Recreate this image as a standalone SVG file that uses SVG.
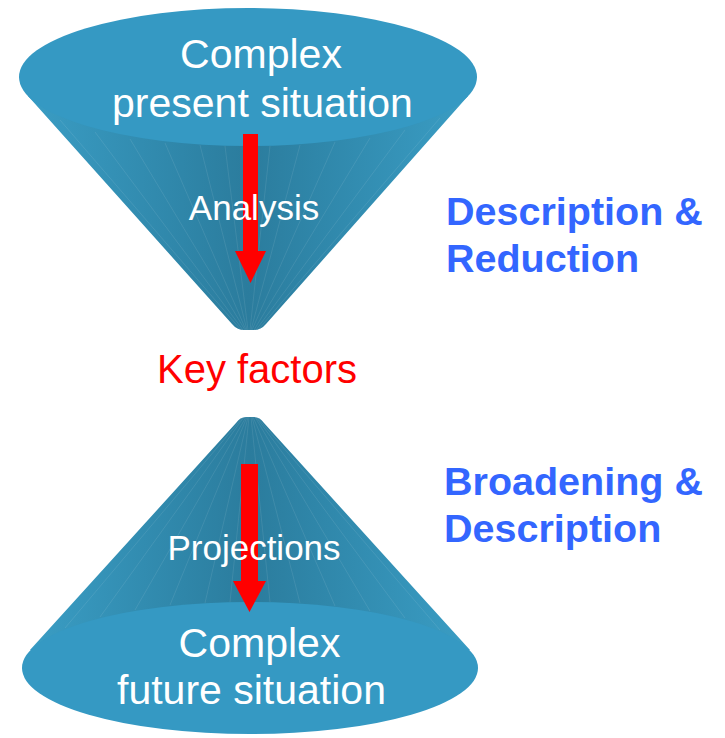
<svg xmlns="http://www.w3.org/2000/svg" width="725" height="738" viewBox="0 0 725 738">
<defs>
<linearGradient id="coneGrad" x1="0" y1="0" x2="1" y2="0">
<stop offset="0" stop-color="#3a9dc4"/>
<stop offset="0.35" stop-color="#2f86a9"/>
<stop offset="0.5" stop-color="#2b7c9d"/>
<stop offset="0.65" stop-color="#2f86a9"/>
<stop offset="1" stop-color="#3a9dc4"/>
</linearGradient>
<style>
.top{fill:#3599c3}
.cone{fill:url(#coneGrad)}
.tex{stroke:#ffffff;stroke-opacity:0.13;stroke-width:0.7;fill:none}
.w{fill:#ffffff;font-family:"Liberation Sans",Arial,sans-serif;text-anchor:middle}
.b{fill:#3366ff;font-family:"Liberation Sans",Arial,sans-serif;font-weight:bold;font-size:39.5px}
.arrow{fill:#ff0000}
</style>
</defs>
<g id="top-cone">
<path class="cone" d="M28,96 L232,324 Q237,330 244,330 L254,330 Q261,330 266,324 L468,96 Z"/>
<g class="tex">
<path d="M60,120 L241,330 M95,132 L243,330 M130,139 L245,330 M165,143 L246,330 M200,145 L247,330 M225,146 L248,330 M270,146 L250,330 M300,145 L251,330 M335,142 L252,330 M370,138 L254,330 M405,130 L256,330 M440,118 L258,330"/>
</g>
<ellipse class="top" cx="248" cy="77" rx="229" ry="69"/>
<text class="w" x="261" y="68" font-size="41">Complex</text>
<text class="w" x="262.5" y="117" font-size="41">present situation</text>
</g>
<g id="bottom-cone">
<path class="cone" d="M30,650 L236,423 Q240,417 246,417 L254,417 Q260,417 264,423 L470,650 Z"/>
<g class="tex">
<path d="M65,628 L243,417 M100,617 L244,417 M135,610 L246,417 M170,605 L247,417 M205,603 L248,417 M230,602 L249,417 M270,602 L251,417 M300,603 L252,417 M335,606 L253,417 M370,611 L255,417 M405,618 L256,417 M440,630 L257,417"/>
</g>
<ellipse class="top" cx="250" cy="668" rx="228" ry="66"/>
<text class="w" x="259.5" y="657" font-size="41">Complex</text>
<text class="w" x="251.5" y="704" font-size="41">future situation</text>
</g>
<g id="connectors">
<polygon class="arrow" points="243,134 258,134 258,251 266,251 250.5,283 235,251 243,251"/>
<polygon class="arrow" points="241,464 258,464 258,581 266,581 249.5,612 233,581 241,581"/>
</g>
<g id="labels">
<text class="w" x="254" y="220" font-size="35">Analysis</text>
<text class="w" x="254" y="560" font-size="35">Projections</text>
<text x="257" y="383" font-size="40" fill="#ff0000" text-anchor="middle" font-family="Liberation Sans, Arial, sans-serif">Key factors</text>
</g>
<g id="description-reduction">
<text class="b" x="446" y="225">Description &amp;</text>
<text class="b" x="446" y="272">Reduction</text>
</g>
<g id="broadening-description">
<text class="b" x="444" y="495">Broadening &amp;</text>
<text class="b" x="444" y="542">Description</text>
</g>
</svg>
